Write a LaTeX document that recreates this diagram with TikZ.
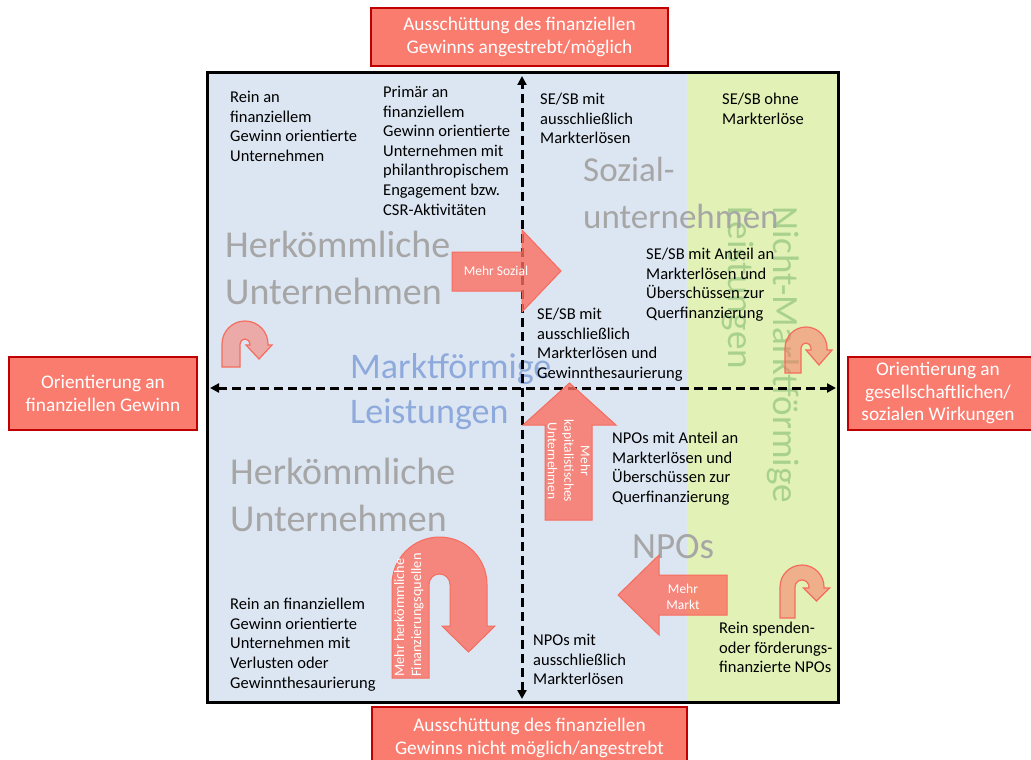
\documentclass[tikz,border=0pt]{standalone}
\usepackage{fontspec}
\setmainfont{Carlito}
\usetikzlibrary{arrows.meta}
\definecolor{bgblue}{RGB}{220,230,242}
\definecolor{bggreen}{RGB}{226,241,182}
\definecolor{boxfill}{RGB}{249,124,111}
\definecolor{boxline}{RGB}{192,0,0}
\definecolor{arrfill}{RGB}{251,111,96}
\definecolor{arrline}{RGB}{246,108,94}
\definecolor{graytxt}{RGB}{166,166,166}
\definecolor{bluetxt}{RGB}{142,169,219}
\definecolor{greentxt}{RGB}{169,209,142}
\newcommand\uturn[9]{%
 \pgfmathsetmacro\uR{#3+#4/2}%
 \pgfmathsetmacro\ur{#4/2}%
 \pgfmathsetmacro\ucy{#5+\uR}%
 \pgfmathsetmacro\uxo{#2+2*\uR}%
 \pgfmathsetmacro\uxi{#2+2*\uR-#3}%
 \pgfmathsetmacro\uxc{#2+2*\uR-#3/2}%
 \draw[#1] (#2,#6) -- (#2,\ucy) arc[start angle=180,end angle=360,radius=\uR pt]
   -- (\uxo,#7) -- (\uxc+#8,#7) -- (\uxc,#9) -- (\uxc-#8,#7) -- (\uxi,#7)
   -- (\uxi,\ucy) arc[start angle=0,end angle=-180,radius=\ur pt] -- (#2+#3,#6) -- cycle;
}
\begin{document}
\begin{tikzpicture}[x=1pt,y=1pt,yscale=-1,
  body/.style={anchor=north west, inner sep=0pt, align=left, font=\fontsize{16.5}{19.6}\selectfont, text=black},
  bigtext/.style={anchor=north west, inner sep=0pt, align=left, text=graytxt},
  redbox/.style={draw=boxline, line width=1.5pt, fill=boxfill},
  boxtext/.style={text=white, align=center, inner sep=0pt, font=\fontsize{19.3}{22.5}\selectfont},
  axis/.style={line width=3pt, dash pattern=on 9pt off 5pt, {Triangle[length=9pt,width=9pt]}-{Triangle[length=9pt,width=9pt]}},
  bigarrow/.style={fill=arrfill, fill opacity=0.8, draw=arrline, line width=1pt},
  smallturn/.style={fill=arrfill, fill opacity=0.5, draw=arrline, line width=1.2pt},
  arrtext/.style={text=white, inner sep=0pt, align=center, font=\fontsize{13.5}{16.5}\selectfont}]
\useasboundingbox (0,0) rectangle (1031,760);
\fill[white] (0,0) rectangle (1031,760);
% backgrounds
\fill[bgblue] (208,74) rectangle (837,701);
\fill[bggreen] (687,74) rectangle (837,701);
% big labels
\node[bigtext, text=greentxt, rotate=-90, font=\fontsize{37}{45}\selectfont] (nml) at (799,206) {Nicht-Marktförmige\\Leistungen};
\node[bigtext, font=\fontsize{38}{47}\selectfont] (hk1) at (225,231) {Herkömmliche\\Unternehmen};
\node[bigtext, font=\fontsize{38}{47}\selectfont] (hk2) at (230,458) {Herkömmliche\\Unternehmen};
\node[bigtext, font=\fontsize{35}{47}\selectfont] (soz) at (583,157) {Sozial-\\unternehmen};
\node[bigtext, font=\fontsize{37}{45}\selectfont] (npo) at (632,534) {NPOs};
\node[bigtext, text=bluetxt, font=\fontsize{36}{45}\selectfont] (ml) at (350,353) {Marktförmige\\Leistungen};
% axes
\coordinate (vt) at (522,76);
\coordinate (vb) at (522,699);
\coordinate (hl) at (210,388);
\coordinate (hr) at (836,388);
\draw[axis] (vb) -- (vt);
\draw[axis] (hl) -- (hr);
% frame
\draw[line width=3pt] (207,73) rectangle (838,702);
% arrows
\draw[bigarrow] (452,252) -- (522,252) -- (522,230) -- (561,271) -- (522,312) -- (522,291) -- (452,291) -- cycle;
\node[arrtext] (mso) at (496,271) {Mehr Sozial};
\draw[bigarrow] (545,520) -- (545,425) -- (523,425) -- (569.5,383) -- (616,425) -- (592,425) -- (592,520) -- cycle;
\node[arrtext, rotate=-90] (mka) at (569,461) {Mehr\\kapitalistisches\\Unternehmen};
\draw[bigarrow] (727,575) -- (659,575) -- (659,555) -- (618,595) -- (659,635) -- (659,615) -- (727,615) -- cycle;
\node[arrtext] (mma) at (683,597) {Mehr\\Markt};
\uturn{bigarrow}{392}{37}{21}{537}{678}{626}{26.5}{652}
\node[arrtext, rotate=90, anchor=north west, align=left, font=\fontsize{14.3}{17}\selectfont] (mhf) at (394,677) {Mehr herkömmliche\\Finanzierungsquellen};
\uturn{smallturn}{222}{18}{10}{321}{367}{345}{13}{359}
\uturn{smallturn}{785}{16}{10}{327}{373}{350}{13}{365}
\uturn{smallturn}{780}{15}{14}{565}{618}{588}{13}{601}
% body texts
\node[body] (t1) at (230,91) {Rein an\\finanziellem\\Gewinn orientierte\\Unternehmen};
\node[body] (t2) at (383,86) {Primär an\\finanziellem\\Gewinn orientierte\\Unternehmen mit\\philanthropischem\\Engagement bzw.\\CSR-Aktivitäten};
\node[body] (t3) at (540,93) {SE/SB mit\\ausschließlich\\Markterlösen};
\node[body] (t4) at (722,93) {SE/SB ohne\\Markterlöse};
\node[body] (t5) at (646,248) {SE/SB mit Anteil an\\Markterlösen und\\Überschüssen zur\\Querfinanzierung};
\node[body] (t6) at (537,308) {SE/SB mit\\ausschließlich\\Markterlösen und\\Gewinnthesaurierung};
\node[body] (t7) at (612,432) {NPOs mit Anteil an\\Markterlösen und\\Überschüssen zur\\Querfinanzierung};
\node[body] (t8) at (230,598) {Rein an finanziellem\\Gewinn orientierte\\Unternehmen mit\\Verlusten oder\\Gewinnthesaurierung};
\node[body] (t9) at (533,634) {NPOs mit\\ausschließlich\\Markterlösen};
\node[body] (t10) at (719,622) {Rein spenden-\\oder förderungs-\\finanzierte NPOs};
% red boxes
\node[redbox, minimum width=297pt, minimum height=58pt, boxtext] (top) at (519.5,37) {Ausschüttung des finanziellen\\Gewinns angestrebt/möglich};
\draw[redbox] (372,707) rectangle (687,780);
\node[boxtext] (bot) at (529.5,738) {Ausschüttung des finanziellen\\Gewinns nicht möglich/angestrebt};
\node[redbox, minimum width=188pt, minimum height=73pt, boxtext] (left) at (103,393.5) {Orientierung an\\finanziellen Gewinn};
\draw[redbox] (848,357) rectangle (1045,430);
\node[boxtext] (right) at (938,393) {Orientierung an\\gesellschaftlichen/\\sozialen Wirkungen};
\end{tikzpicture}
\end{document}
